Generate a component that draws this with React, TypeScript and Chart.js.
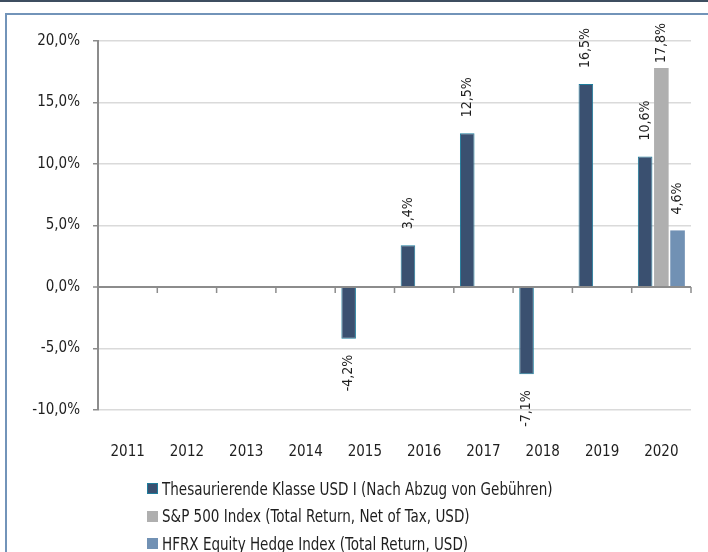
import React, { useEffect, useRef } from "react";
import { Chart, registerables } from "chart.js";

Chart.register(...registerables);

const years = ["2011", "2012", "2013", "2014", "2015", "2016", "2017", "2018", "2019", "2020"];
const fundReturns = [null, null, null, null, -4.2, 3.4, 12.5, -7.1, 16.5, 10.6];
const sp500Returns = [null, null, null, null, null, null, null, null, null, 17.8];
const hfrxReturns = [null, null, null, null, null, null, null, null, null, 4.6];
const seriesLabels = [
  "Thesaurierende Klasse USD I (Nach Abzug von Gebühren)",
  "S&P 500 Index (Total Return, Net of Tax, USD)",
  "HFRX Equity Hedge Index (Total Return, USD)",
];
const yMin = -10;
const yMax = 20;
const yStep = 5;

const FONT = "'Liberation Sans Narrow', 'DejaVu Sans Condensed', 'Liberation Sans', sans-serif";
const TEXT = "#1e1e1e";
const colors = ["#3a5070", "#afafaf", "#7191b4"];
const borders = ["#1f7d9c", "#afafaf", "#7191b4"];

const fmt = (v: number) => v.toFixed(1).replace(".", ",") + "%";

const labelPlugin = {
  id: "barLabels",
  afterDatasetsDraw(chart: any) {
    const ctx = chart.ctx;
    const minTop = chart.chartArea.top - 18;
    ctx.save();
    ctx.font = `14px ${FONT}`;
    ctx.fillStyle = TEXT;
    ctx.textBaseline = "middle";
    chart.data.datasets.forEach((ds: any, di: number) => {
      const meta = chart.getDatasetMeta(di);
      meta.data.forEach((el: any, i: number) => {
        const v = ds.data[i];
        if (v === null || v === undefined) return;
        const txt = fmt(v);
        const w = ctx.measureText(txt).width;
        ctx.save();
        if (v >= 0) {
          let start = el.y - 16;
          if (start - w < minTop) start = minTop + w;
          ctx.translate(el.x, start);
          ctx.rotate(-Math.PI / 2);
          ctx.textAlign = "left";
        } else {
          ctx.translate(el.x, el.y + 16);
          ctx.rotate(-Math.PI / 2);
          ctx.textAlign = "right";
        }
        ctx.fillText(txt, 0, 0);
        ctx.restore();
      });
    });
    ctx.restore();
  },
};

const zeroTickPlugin = {
  id: "zeroTicks",
  afterDatasetsDraw(chart: any) {
    const ctx = chart.ctx;
    const xs = chart.scales.x;
    const ys = chart.scales.y;
    const y0 = ys.getPixelForValue(0);
    const n = chart.data.labels.length;
    const step = xs.width / n;
    ctx.save();
    ctx.strokeStyle = "#8c8c8c";
    ctx.lineWidth = 2;
    ctx.beginPath();
    ctx.moveTo(xs.left, y0);
    ctx.lineTo(xs.right, y0);
    ctx.stroke();
    ctx.lineWidth = 1.5;
    for (let i = 1; i <= n; i++) {
      const x = xs.left + i * step;
      ctx.beginPath();
      ctx.moveTo(x, y0);
      ctx.lineTo(x, y0 + 6);
      ctx.stroke();
    }
    ctx.restore();
  },
};

export default function App() {
  const ref = useRef<HTMLCanvasElement | null>(null);

  useEffect(() => {
    if (!ref.current) return;
    const chart = new Chart(ref.current, {
      type: "bar",
      data: {
        labels: years,
        datasets: [
          { label: seriesLabels[0], data: fundReturns, backgroundColor: colors[0], borderColor: borders[0], borderWidth: 1 },
          { label: seriesLabels[1], data: sp500Returns, backgroundColor: colors[1], borderColor: borders[1], borderWidth: 0 },
          { label: seriesLabels[2], data: hfrxReturns, backgroundColor: colors[2], borderColor: borders[2], borderWidth: 0 },
        ],
      },
      options: {
        responsive: false,
        animation: false,
        datasets: { bar: { categoryPercentage: 0.82, barPercentage: 0.9 } },
        layout: { padding: { left: 0, top: 41, right: 17, bottom: 92 } },
        plugins: { legend: { display: false }, tooltip: { enabled: false } },
        scales: {
          x: {
            grid: { display: false, drawTicks: false },
            border: { display: false },
            ticks: { color: TEXT, font: { family: FONT, size: 15 }, padding: 33, maxRotation: 0 },
            afterFit: (s: any) => {
              s.height = 50;
              s.paddingLeft = 0;
              s.paddingRight = 0;
            },
          },
          y: {
            min: yMin,
            max: yMax,
            ticks: { stepSize: yStep, color: TEXT, font: { family: FONT, size: 15 }, padding: 13, callback: (v: any) => fmt(Number(v)) },
            grid: {
              color: (c: any) => (c.tick && c.tick.value === 0 ? "#8c8c8c" : "#dadada"),
              lineWidth: (c: any) => (c.tick && c.tick.value === 0 ? 2 : 1.5),
              drawTicks: true,
              tickLength: 5,
              tickColor: "#8c8c8c",
              tickWidth: 1.5,
            },
            border: { display: true, color: "#8c8c8c", width: 2 },
            afterFit: (s: any) => {
              s.width = 98;
              s.paddingTop = 0;
              s.paddingBottom = 0;
            },
          },
        },
      },
      plugins: [labelPlugin, zeroTickPlugin],
    });
    return () => chart.destroy();
  }, []);

  const legendRow = (i: number) => (
    <div key={i} style={{ display: "flex", alignItems: "center", height: 27.5 }}>
      <span
        style={{
          display: "inline-block",
          flex: "none",
          width: i === 0 ? 9 : 11,
          height: i === 0 ? 9 : 11,
          background: colors[i],
          border: i === 0 ? `1px solid ${borders[0]}` : "none",
          marginRight: 4,
        }}
      />
      <span style={{ display: "inline-block", whiteSpace: "nowrap", fontSize: 18, transform: "scaleX(0.835)", transformOrigin: "left center" }}>
        {seriesLabels[i]}
      </span>
    </div>
  );

  return (
    <div style={{ position: "fixed", left: 0, top: 0, width: 708, height: 552, background: "#fff", overflow: "hidden" }}>
      <div style={{ position: "absolute", left: 0, top: 0, width: 708, height: 1.5, background: "#3e4e60" }} />
      <div
        style={{
          position: "absolute",
          left: 5,
          top: 13,
          width: 720,
          height: 600,
          borderLeft: "2px solid #7294b9",
          borderTop: "2px solid #7294b9",
        }}
      />
      <canvas ref={ref} width={708} height={552} style={{ position: "absolute", left: 0, top: 0 }} />
      <div
        style={{
          position: "absolute",
          left: 147,
          top: 475,
          fontFamily: FONT,
          color: TEXT,
          lineHeight: "20px",
        }}
      >
        {[0, 1, 2].map(legendRow)}
      </div>
    </div>
  );
}
